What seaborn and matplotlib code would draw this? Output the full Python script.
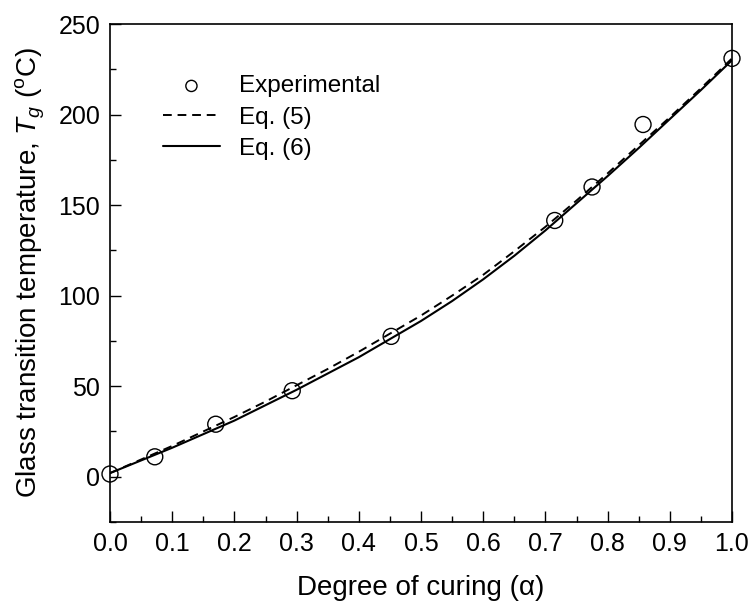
import matplotlib
matplotlib.use("Agg")
import matplotlib.pyplot as plt
import seaborn as sns
import pandas as pd
from matplotlib.ticker import MultipleLocator

alpha_exp = [0.0, 0.072, 0.17, 0.293, 0.452, 0.715, 0.775, 0.857, 1.0]
tg_exp = [1.5, 11, 29, 47.5, 77.5, 141.5, 160, 194.5, 231]

# Model curves
alpha_fit = [0.0, 0.05, 0.1, 0.15, 0.2, 0.25, 0.3, 0.35, 0.4, 0.45, 0.5,
             0.55, 0.6, 0.65, 0.7, 0.75, 0.8, 0.85, 0.9, 0.95, 1.0]
tg_eq5 = [2, 9.5, 17, 25, 33, 41.5, 50.5, 59.5, 69, 79, 89,
          100, 111.5, 124.5, 138, 152.5, 167.5, 183, 198.5, 214.5, 231]
tg_eq6 = [2, 9, 16, 23.5, 31, 39.5, 48, 57, 66, 76, 86,
          97, 109, 122, 136, 151, 166, 181.5, 197.5, 213.5, 230]

x_ticks = [0.0, 0.1, 0.2, 0.3, 0.4, 0.5, 0.6, 0.7, 0.8, 0.9, 1.0]
y_ticks = [0, 50, 100, 150, 200, 250]

sns.set_style("ticks", {"axes.edgecolor": "black", "text.color": "black",
                        "axes.labelcolor": "black", "xtick.color": "black",
                        "ytick.color": "black"})
plt.rcParams["font.family"] = ["Liberation Sans", "DejaVu Sans"]
plt.rcParams["mathtext.fontset"] = "custom"
plt.rcParams["mathtext.rm"] = "Liberation Sans"
plt.rcParams["mathtext.it"] = "Liberation Sans:italic"

df_exp = pd.DataFrame({"alpha": alpha_exp, "Tg": tg_exp})
df5 = pd.DataFrame({"alpha": alpha_fit, "Tg": tg_eq5})
df6 = pd.DataFrame({"alpha": alpha_fit, "Tg": tg_eq6})

fig = plt.figure(figsize=(7.49, 6.05), dpi=100)
ax = fig.add_axes([110/749, 1-522/605, 622/749, 498/605])

sns.scatterplot(data=df_exp, x="alpha", y="Tg", ax=ax, marker="o", s=11.5**2,
                facecolor="none", edgecolor="black", linewidth=1.0,
                label="Experimental", zorder=3, clip_on=False)
sns.lineplot(data=df5, x="alpha", y="Tg", ax=ax, color="black", linewidth=1.4,
             linestyle=(0, (4.5, 3)), label="Eq. (5)")
sns.lineplot(data=df6, x="alpha", y="Tg", ax=ax, color="black", linewidth=1.5,
             label="Eq. (6)")

ax.set_xlim(0, 1.0)
ax.set_ylim(-25, 250)
ax.set_xticks(x_ticks)
ax.set_xticklabels([f"{v:.1f}" for v in x_ticks])
ax.set_yticks(y_ticks)
ax.xaxis.set_minor_locator(MultipleLocator(0.05))
ax.yaxis.set_minor_locator(MultipleLocator(25))
ax.tick_params(which="major", direction="in", length=8, width=1.0,
               labelsize=18, pad=7, top=False, right=False,
               color="black", labelcolor="black")
ax.tick_params(which="minor", direction="in", length=4, width=1.0,
               top=False, right=False, color="black")
for s in ax.spines.values():
    s.set_visible(True)
    s.set_linewidth(1.2)
    s.set_color("black")

ax.set_xlabel("Degree of curing (α)", fontsize=20, labelpad=14, color="black")
ax.set_ylabel("Glass transition temperature, $T_g$ ($^{\\rm o}$C)", fontsize=20,
              labelpad=8, color="black")

leg = ax.legend(loc="upper left", bbox_to_anchor=(0.085, 0.897), frameon=False,
                fontsize=17.5, handlelength=2.35, handletextpad=0.8,
                labelspacing=0.38, borderpad=0, borderaxespad=0, markerscale=0.7)
for t in leg.get_texts():
    t.set_color("black")

fig.savefig("out.png", dpi=100)
